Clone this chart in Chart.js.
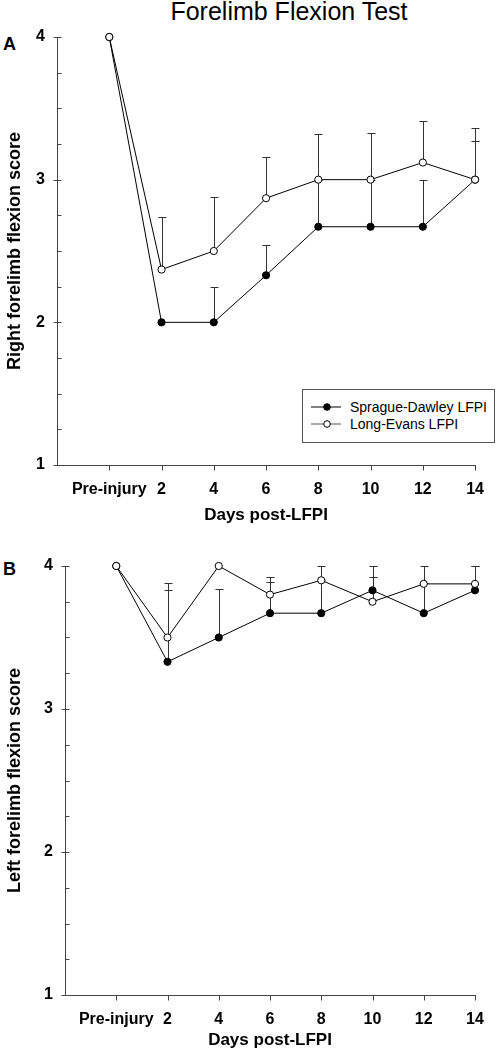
<!DOCTYPE html>
<html>
<head>
<meta charset="utf-8">
<script src="https://cdn.jsdelivr.net/npm/chart.js@4.4.1/dist/chart.umd.min.js"></script>
<style>
  html, body { margin:0; padding:0; background:#fff; width:499px; height:1051px; overflow:hidden; position:relative; font-family:'Liberation Sans', Arial, sans-serif; }
  canvas { position:absolute; left:0; }
  #cA { top:0; }
  #cB { top:530px; }
  .lbl { position:absolute; color:#000; white-space:nowrap; }
  #title { left:289px; top:-1px; transform:translateX(-50%); font-size:25px; line-height:24px; }
  #pA { left:3px; top:35px; font-weight:bold; font-size:18px; line-height:18px; }
  #pB { left:3px; top:560px; font-weight:bold; font-size:18px; line-height:18px; }
  #legend { position:absolute; left:302px; top:389px; width:193px; height:54px; border:1px solid #555; box-sizing:border-box; background:#fff; }
  #legend svg { position:absolute; left:8px; }
  #legend .t { position:absolute; left:47px; font-size:14px; line-height:16px; color:#000; white-space:nowrap; }
</style>
</head>
<body>
<div id="title" class="lbl">Forelimb Flexion Test</div>
<div id="pA" class="lbl">A</div>
<div id="pB" class="lbl">B</div>
<canvas id="cA" width="499" height="540"></canvas>
<canvas id="cB" width="499" height="521"></canvas>
<div id="legend">
  <svg width="32" height="10" style="top:12px"><line x1="0" y1="5" x2="30" y2="5" stroke="#000" stroke-width="1"/><circle cx="16" cy="5" r="3.3" fill="#000" stroke="#000" stroke-width="1"/></svg>
  <div class="t" id="lg0" style="top:9px"></div>
  <svg width="32" height="10" style="top:29px"><line x1="0" y1="5" x2="30" y2="5" stroke="#555" stroke-width="1"/><circle cx="16" cy="5" r="3.3" fill="#fff" stroke="#000" stroke-width="1"/></svg>
  <div class="t" id="lg1" style="top:26px"></div>
</div>
<script>
// ---- data ----
const categories = ['Pre-injury', '2', '4', '6', '8', '10', '12', '14'];
const yTickLabels = [1, 2, 3, 4];
const seriesNames = ['Sprague-Dawley LFPI', 'Long-Evans LFPI'];

// Panel A: right forelimb
const sdRight    = [4, 2.00, 2.00, 2.33, 2.67, 2.67, 2.67, 3.00];
const sdRightErr = [0, 0.00, 0.25, 0.21, 0.33, 0.33, 0.33, 0.27];
const leRight    = [4, 2.37, 2.50, 2.87, 3.00, 3.00, 3.12, 3.00];
const leRightErr = [0, 0.37, 0.38, 0.29, 0.32, 0.33, 0.29, 0.36];

// Panel B: left forelimb
const sdLeft    = [4, 3.33, 3.50, 3.67, 3.67, 3.83, 3.67, 3.83];
const sdLeftErr = [0, 0.50, 0.34, 0.22, 0.23, 0.17, 0.21, 0.17];
const leLeft    = [4, 3.50, 4.00, 3.80, 3.90, 3.75, 3.875, 3.875];
const leLeftErr = [0, 0.38, 0.00, 0.12, 0.10, 0.17, 0.125, 0.125];

document.getElementById('lg0').textContent = seriesNames[0];
document.getElementById('lg1').textContent = seriesNames[1];

const FONT = "'Liberation Sans', Arial, sans-serif";

const errorBars = {
  id: 'errorBars',
  beforeDatasetsDraw(chart) {
    const { ctx, scales: { x, y } } = chart;
    ctx.save();
    ctx.strokeStyle = '#333';
    ctx.lineWidth = 1;
    ctx.beginPath();
    chart.data.datasets.forEach(ds => {
      ds.data.forEach((p, i) => {
        const e = ds.errUp[i];
        if (!e) return;
        const px = Math.round(x.getPixelForValue(p.x)) + 0.5;
        const y0 = y.getPixelForValue(p.y);
        const y1 = Math.round(y.getPixelForValue(p.y + e)) + 0.5;
        ctx.moveTo(px, y0); ctx.lineTo(px, y1);
        ctx.moveTo(px - 4, y1); ctx.lineTo(px + 4, y1);
      });
    });
    ctx.stroke();
    ctx.restore();
  }
};

const tickMarks = {
  id: 'tickMarks',
  afterDraw(chart) {
    const { ctx, chartArea: a, scales: { x, y } } = chart;
    ctx.save();
    ctx.strokeStyle = '#444';
    ctx.lineWidth = 1;
    ctx.beginPath();
    const ax = Math.round(a.left) + 0.5;
    y.ticks.forEach(t => {
      const py = Math.round(y.getPixelForValue(t.value)) + 0.5;
      const major = yTickLabels.includes(t.value);
      ctx.moveTo(major ? ax - 4 : ax, py);
      ctx.lineTo(ax + 4, py);
    });
    const ay = Math.round(a.bottom) + 0.5;
    x.ticks.forEach(t => {
      const px = Math.round(x.getPixelForValue(t.value)) + 0.5;
      ctx.moveTo(px, ay);
      ctx.lineTo(px, ay + 5);
    });
    ctx.stroke();
    ctx.restore();
  }
};

function makeChart(id, sd, sdErr, le, leErr, yTitle, g) {
  const ds = (name, vals, errs, fillCol, order) => ({
    label: name,
    data: vals.map((v, i) => ({ x: i, y: v })),
    errUp: errs,
    order: order,
    borderColor: '#000',
    borderWidth: 1,
    pointRadius: 3.6,
    pointHoverRadius: 3.6,
    pointBackgroundColor: fillCol,
    pointBorderColor: '#000',
    pointBorderWidth: 1,
    tension: 0,
    fill: false,
    clip: false
  });
  return new Chart(document.getElementById(id), {
    type: 'line',
    data: {
      datasets: [
        ds(seriesNames[0], sd, sdErr, '#000', 1),
        ds(seriesNames[1], le, leErr, '#fff', 0)
      ]
    },
    options: {
      responsive: false,
      animation: false,
      devicePixelRatio: 1,
      events: [],
      layout: { padding: { top: g.padTop, right: g.padRight, left: 0, bottom: 0 } },
      plugins: { legend: { display: false }, tooltip: { enabled: false } },
      scales: {
        x: {
          type: 'linear', min: -1, max: 7,
          grid: { display: false, drawTicks: false },
          border: { display: true, color: '#444', width: 1 },
          afterBuildTicks: s => { s.ticks = categories.map((c, i) => ({ value: i })); },
          afterFit: s => { s.height = g.xHeight; },
          ticks: {
            autoSkip: false, maxRotation: 0, padding: 15, color: '#000',
            font: { family: FONT, size: 16, weight: 'bold' },
            callback: v => categories[v]
          },
          title: {
            display: true, text: 'Days post-LFPI', color: '#000',
            font: { family: FONT, size: 17, weight: 'bold' },
            padding: { top: 0, bottom: g.xTitlePad }
          }
        },
        y: {
          type: 'linear', min: 1, max: 4,
          grid: { display: false, drawTicks: false },
          border: { display: true, color: '#444', width: 1 },
          afterFit: s => { s.width = g.yWidth; },
          ticks: {
            stepSize: 0.25, autoSkip: false, padding: 12, color: '#000',
            font: { family: FONT, size: 16, weight: 'bold' },
            callback: v => yTickLabels.includes(v) ? String(v) : ''
          },
          title: {
            display: true, text: yTitle, color: '#000',
            font: { family: FONT, size: 18, weight: 'bold' },
            padding: { top: 4, bottom: 0 }
          }
        }
      }
    },
    plugins: [errorBars, tickMarks]
  });
}

makeChart('cA', sdRight, sdRightErr, leRight, leRightErr, 'Right forelimb flexion score',
  { padTop: 37, padRight: 14, yWidth: 57, xHeight: 75, xTitlePad: 14 });
makeChart('cB', sdLeft, sdLeftErr, leLeft, leLeftErr, 'Left forelimb flexion score',
  { padTop: 36, padRight: 24, yWidth: 65, xHeight: 56, xTitlePad: 0 });
</script>
</body>
</html>
